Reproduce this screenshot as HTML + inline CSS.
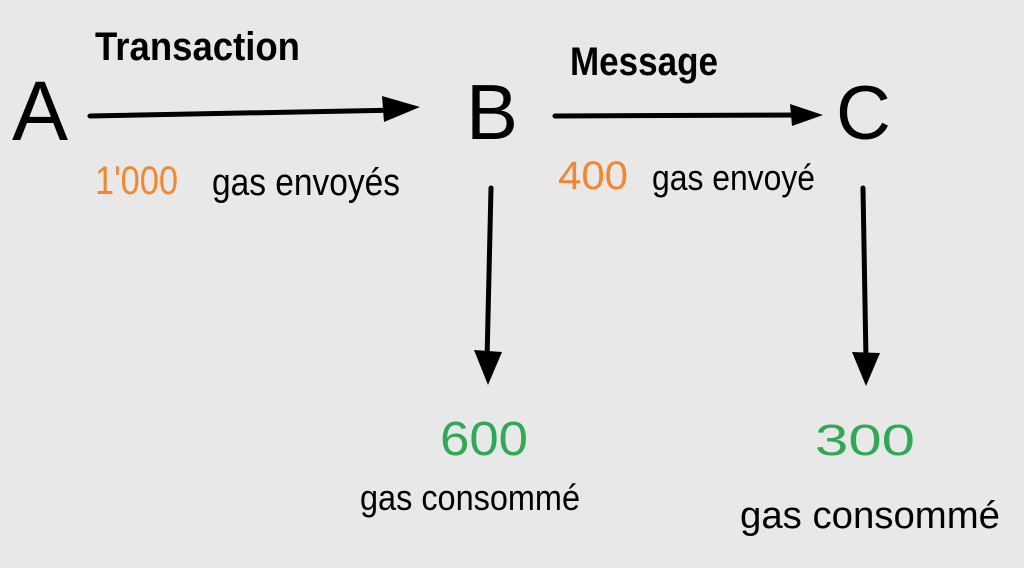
<!DOCTYPE html>
<html><head><meta charset="utf-8"><style>
html,body{margin:0;padding:0;background:#e8e8e8;}
svg{display:block}
text{font-family:"Liberation Sans",sans-serif;}
</style></head><body>
<svg width="1024" height="568" viewBox="0 0 1024 568" xmlns="http://www.w3.org/2000/svg">
<rect width="1024" height="568" fill="#e8e8e8"/>
<g fill="#000">
<text x="12" y="140" font-size="84">A</text>
<text x="466" y="139" font-size="78">B</text>
<text x="836" y="139" font-size="76">C</text>
<text x="95" y="60" font-size="40" font-weight="bold" textLength="205" lengthAdjust="spacingAndGlyphs">Transaction</text>
<text x="570" y="75" font-size="40" font-weight="bold" textLength="148" lengthAdjust="spacingAndGlyphs">Message</text>
<text x="212" y="195" font-size="38" textLength="188" lengthAdjust="spacingAndGlyphs">gas envoyés</text>
<text x="652" y="190" font-size="36" textLength="163" lengthAdjust="spacingAndGlyphs">gas envoyé</text>
<text x="360" y="510" font-size="36" textLength="220" lengthAdjust="spacingAndGlyphs">gas consommé</text>
<text x="740" y="528" font-size="38" textLength="260" lengthAdjust="spacingAndGlyphs">gas consommé</text>
</g>
<text x="95" y="194" font-size="40" fill="#f7862a" textLength="83" lengthAdjust="spacingAndGlyphs">1'000</text>
<text x="558" y="189" font-size="40" fill="#f7862a" textLength="70" lengthAdjust="spacingAndGlyphs">400</text>
<text x="440" y="455" font-size="48" fill="#2eaa55" textLength="88" lengthAdjust="spacingAndGlyphs">600</text>
<text x="815" y="455" font-size="44" fill="#2eaa55" textLength="100" lengthAdjust="spacingAndGlyphs">300</text>
<g stroke="#000" stroke-width="5" stroke-linecap="round" fill="none">
<line x1="90" y1="116" x2="400" y2="110"/>
<line x1="555" y1="116" x2="805" y2="115"/>
<line x1="491" y1="188" x2="487" y2="360"/>
<line x1="863" y1="188" x2="866" y2="360"/>
</g>
<g fill="#000">
<polygon points="382,96 420,107 384,122"/>
<polygon points="790,104 823,115 792,126"/>
<polygon points="474,350 502,352 488,385"/>
<polygon points="852,352 880,353 866,386"/>
</g>
</svg>
</body></html>
